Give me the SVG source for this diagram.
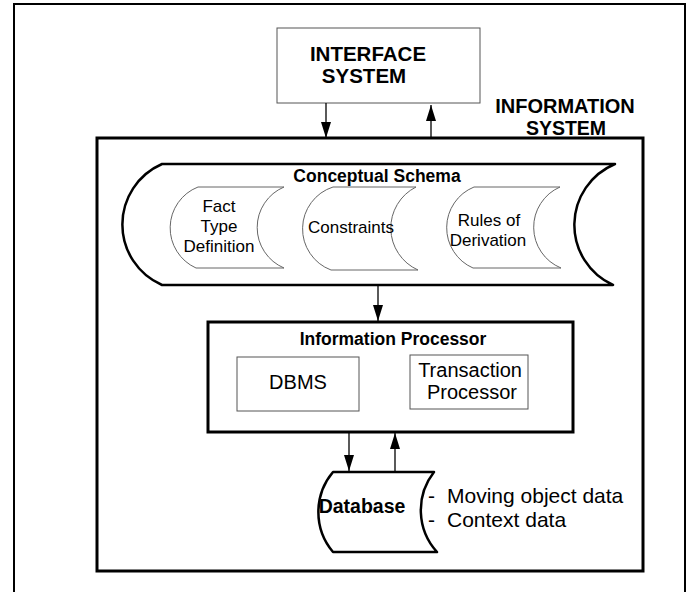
<svg xmlns="http://www.w3.org/2000/svg" width="688" height="592" viewBox="0 0 688 592">
  <style>
    text { font-family: "Liberation Sans", Arial, sans-serif; fill: #000; }
    .bold { font-weight: bold; }
    .mid { text-anchor: middle; }
    .thin { fill: #fff; stroke: #555; stroke-width: 1; }
    .thick { fill: none; stroke: #000; stroke-width: 3; }
    .store { fill: #fff; stroke: #000; stroke-width: 2.5; stroke-linejoin: round; }
    .inner { fill: #fff; stroke: #666; stroke-width: 1; }
    .link { stroke: #000; stroke-width: 1.3; fill: none; }
  </style>
  <defs>
    <marker id="head" markerWidth="16" markerHeight="10" refX="16" refY="5" orient="auto" markerUnits="userSpaceOnUse" viewBox="0 0 16 10">
      <path d="M0,0 L16,5 L0,10 Z" fill="#000"/>
    </marker>
  </defs>

  <rect width="688" height="592" fill="#fff"/>
  <!-- page frame -->
  <rect x="14" y="4" width="671" height="620" fill="none" stroke="#000" stroke-width="2"/>

  <!-- interface system -->
  <g id="interface-system">
    <rect x="277" y="28" width="203" height="75" class="thin"/>
    <text x="368" y="61" class="bold mid" font-size="20.5">INTERFACE</text>
    <text x="364" y="83" class="bold mid" font-size="20.5">SYSTEM</text>
  </g>

  <!-- information system container -->
  <g id="information-system">
    <rect x="97" y="138" width="546" height="433" class="thick"/>
    <text x="565" y="113" class="bold mid" font-size="20">INFORMATION</text>
    <text x="566" y="135" class="bold mid" font-size="19.5">SYSTEM</text>
  </g>

  <!-- conceptual schema store with its three parts -->
  <g id="conceptual-schema">
    <path d="M162,164 L615,164 A66,66 0 0 0 613,285 L162,285 A66,66 0 0 1 162,164 Z" class="store"/>
    <text x="377" y="182" class="bold mid" font-size="17.5">Conceptual Schema</text>
  </g>
  <g id="fact-type-definition">
    <path d="M198,187 L284,187 A44,44 0 0 0 284,268 L196,268 A44,44 0 0 1 198,187 Z" class="inner"/>
    <text x="219" y="212" class="mid" font-size="17">Fact</text>
    <text x="219" y="232" class="mid" font-size="17">Type</text>
    <text x="219" y="252" class="mid" font-size="17">Definition</text>
  </g>
  <g id="constraints">
    <path d="M333,187 L416,187 A46,46 0 0 0 418,270 L331,270 A44,44 0 0 1 333,187 Z" class="inner"/>
    <text x="351" y="233" class="mid" font-size="17">Constraints</text>
  </g>
  <g id="rules-of-derivation">
    <path d="M474,187 L560,187 A44,44 0 0 0 561,268 L473,268 A44,44 0 0 1 474,187 Z" class="inner"/>
    <text x="489" y="226" class="mid" font-size="17">Rules of</text>
    <text x="488" y="246" class="mid" font-size="17">Derivation</text>
  </g>

  <!-- information processor -->
  <g id="information-processor">
    <rect x="208" y="322" width="365" height="110" class="thick"/>
    <text x="393" y="345" class="bold mid" font-size="17.5">Information Processor</text>
  </g>
  <g id="dbms">
    <rect x="237" y="357" width="122" height="54" class="thin"/>
    <text x="298" y="389" class="mid" font-size="20">DBMS</text>
  </g>
  <g id="transaction-processor">
    <rect x="410" y="355" width="118" height="54" class="thin"/>
    <text x="470" y="377" class="mid" font-size="20">Transaction</text>
    <text x="472" y="399" class="mid" font-size="20">Processor</text>
  </g>

  <!-- database store and its contents -->
  <g id="database">
    <path d="M333,472 L434,472 A62,62 0 0 0 437,552 L333,552 A62,62 0 0 1 333,472 Z" class="store"/>
    <text x="362" y="513" class="mid" font-size="19.5" font-weight="bold">Database</text>
    <text x="428" y="503" font-size="21">-</text>
    <text x="447" y="503" font-size="21">Moving object data</text>
    <text x="428" y="527" font-size="21">-</text>
    <text x="447" y="527" font-size="21">Context data</text>
  </g>

  <!-- connectors -->
  <g id="connectors">
    <line x1="326" y1="103" x2="326" y2="138" class="link" marker-end="url(#head)"/>
    <line x1="431" y1="137" x2="431" y2="105" class="link" marker-end="url(#head)"/>
    <line x1="378" y1="285" x2="378" y2="321" class="link" marker-end="url(#head)"/>
    <line x1="349" y1="433" x2="349" y2="471" class="link" marker-end="url(#head)"/>
    <line x1="395" y1="471" x2="395" y2="433" class="link" marker-end="url(#head)"/>
  </g>
</svg>
